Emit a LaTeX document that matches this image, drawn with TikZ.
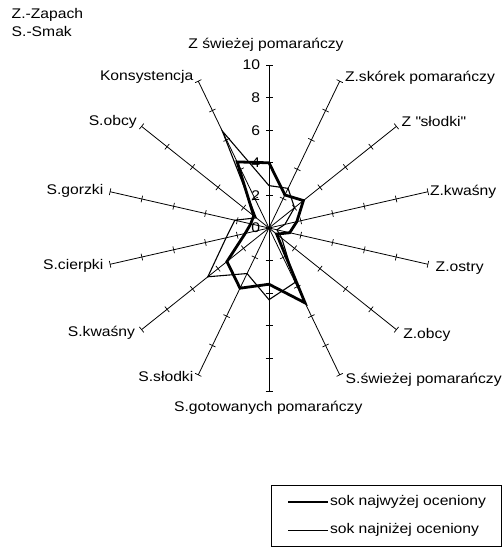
\documentclass[tikz,border=0pt]{standalone}
\usepackage{fontspec}
\setmainfont{Liberation Sans}[FakeStretch=1.12]
\begin{document}
\begin{tikzpicture}[x=1pt,y=1pt,
  font=\fontsize{14}{16}\selectfont,
  axisline/.style={line width=0.8pt},
  tickmark/.style={line width=0.7pt},
  hiser/.style={line width=2.8pt,line join=miter},
  loser/.style={line width=1.1pt,line join=miter},
  lbl/.style={inner sep=0pt,outer sep=0pt}]
\useasboundingbox (0,0) rectangle (503,-547);
\fill[white] (0,0) rectangle (503,-547);
\def\u{16.3}
% header
\node[lbl,anchor=base west] (zap) at (11.7,-18.3) {Z.-Zapach};
\node[lbl,anchor=base west] (smak) at (11.7,-36.7) {S.-Smak};
\begin{scope}[shift={(269,-228)}]
  \coordinate (O) at (0,0);
  % axes with ticks
  \foreach \k in {0,...,13}{
    \begin{scope}[rotate={90-\k*360/14}]
      \draw[axisline] (0,0) -- (163,0) coordinate (T\k);
      \foreach \t in {2,4,6,8,10}{
        \draw[tickmark] ({\t*\u},-3.5) -- ({\t*\u},3.5);
      }
    \end{scope}
  }
  % series: highest rated (thick)
  \foreach \k/\v in {0/4.0,1/2.25,2/2.7,3/1.75,4/1.3,5/0.6,6/5.1,7/3.45,8/4.1,9/3.3,10/1.5,11/1.15,12/1.2,13/4.5}{
    \coordinate (H\k) at ({90-\k*360/14}:{\v*\u});
  }
  % series: lowest rated (thin)
  \foreach \k/\v in {0/2.6,1/2.7,2/2.0,3/1.0,4/0.5,5/1.0,6/3.7,7/4.4,8/3.1,9/4.8,10/2.7,11/2.15,12/1.0,13/6.6}{
    \coordinate (L\k) at ({90-\k*360/14}:{\v*\u});
  }
  \draw[loser] (L0)--(L1)--(L2)--(L3)--(L4)--(L5)--(L6)--(L7)--(L8)--(L9)--(L10)--(L11)--(L12)--(L13)--cycle;
  \draw[hiser] (H0)--(H1)--(H2)--(H3)--(H4)--(H5)--(H6)--(H7)--(H8)--(H9)--(H10)--(H11)--(H12)--(H13)--cycle;
  % value labels
  \foreach \t in {0,2,4,6,8,10}{
    \node[lbl,anchor=east] (v\t) at (-9,{\t*\u}) {\t};
  }
\end{scope}
% axis labels
\node[lbl,anchor=base] (a0) at (266,-48) {Z świeżej pomarańczy};
\node[lbl,anchor=base west] (a1) at (345,-81.7) {Z.skórek pomarańczy};
\node[lbl,anchor=base west] (a2) at (401.7,-126) {Z \textquotedbl słodki\textquotedbl};
\node[lbl,anchor=base west] (a3) at (430,-195) {Z.kwaśny};
\node[lbl,anchor=base west] (a4) at (435.7,-271.7) {Z.ostry};
\node[lbl,anchor=base west] (a5) at (403.3,-338.3) {Z.obcy};
\node[lbl,anchor=base west] (a6) at (345.7,-383.3) {S.świeżej pomarańczy};
\node[lbl,anchor=base] (a7) at (268.3,-411.7) {S.gotowanych pomarańczy};
\node[lbl,anchor=base east] (a8) at (193.3,-381.7) {S.słodki};
\node[lbl,anchor=base east] (a9) at (135,-336.7) {S.kwaśny};
\node[lbl,anchor=base east] (a10) at (103.3,-269.3) {S.cierpki};
\node[lbl,anchor=base east] (a11) at (103.3,-194.3) {S.gorzki};
\node[lbl,anchor=base east] (a12) at (136.7,-125.7) {S.obcy};
\node[lbl,anchor=base east] (a13) at (193.3,-80) {Konsystencja};
% legend
\draw[line width=0.8pt] (271.7,-485) rectangle (501.7,-546);
\coordinate (l1a) at (288,-502.3);
\coordinate (l1b) at (328,-502.3);
\coordinate (l2a) at (288,-530);
\coordinate (l2b) at (328,-530);
\draw[line width=2.2pt] (l1a) -- (l1b);
\draw[line width=1pt] (l2a) -- (l2b);
\node[lbl,anchor=west] (leg1) at (330,-502.3) {sok najwyżej oceniony};
\node[lbl,anchor=west] (leg2) at (330,-530) {sok najniżej oceniony};
\end{tikzpicture}
\end{document}
